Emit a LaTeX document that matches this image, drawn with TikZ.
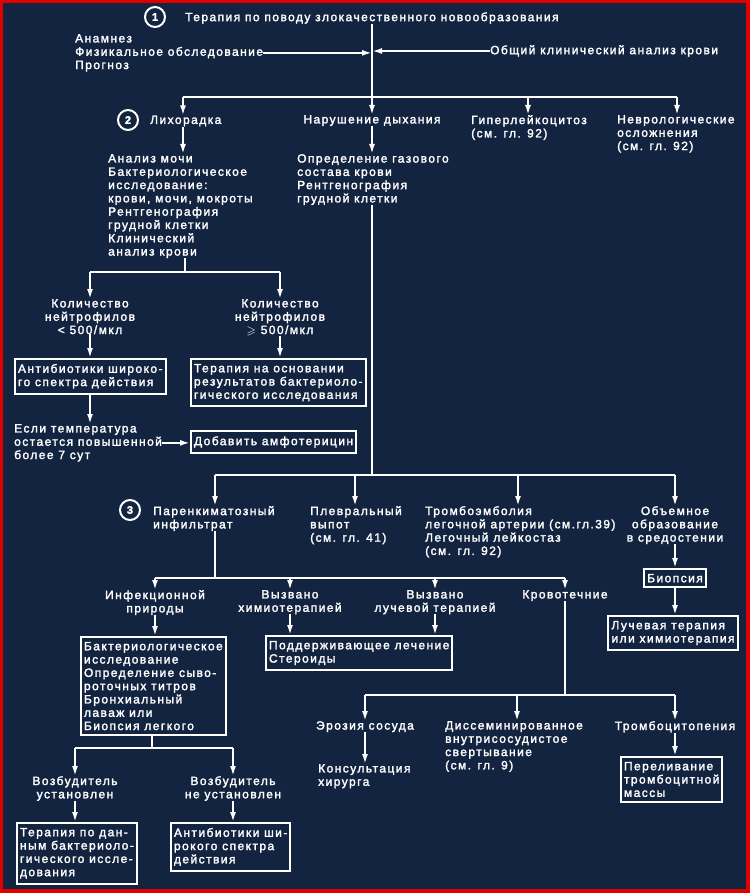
\documentclass[tikz,border=0pt]{standalone}
\usepackage{amssymb}
\usepackage{fontspec}
\setmainfont{Liberation Sans}[LetterSpace=12, FakeBold=2]
\usetikzlibrary{arrows.meta}
\definecolor{navy}{RGB}{19,36,64}
\definecolor{rim}{RGB}{225,0,0}

\begin{document}
\begin{tikzpicture}[x=1pt, y=-1pt,
    every node/.append style={text=white, inner sep=0pt, font=\fontsize{12}{13.3}\selectfont},
    txt/.style={align=left, anchor=north west, yshift=-3pt},
    ctxt/.style={align=center, anchor=north, yshift=-3pt},
    box/.style={draw=white, line width=2pt, align=left, inner xsep=3pt, inner ysep=5pt, anchor=north west},
    num/.style={circle, draw=white, line width=2pt, minimum size=20pt, font=\bfseries\fontsize{11}{13}\selectfont},
    wire/.style={draw=white, line width=1.9pt},
    arr/.style={wire, -{Latex[length=10pt, width=6pt]}}]
    \useasboundingbox (0,0) rectangle (750,893);
    \fill[rim] (0,0) rectangle (750,893);
    \fill[navy] (3,3) rectangle (746,889);
    % first level
    \coordinate (j1) at (372,97);
    \coordinate (b1) at (183,97);
    \coordinate (b3) at (528,97);
    \coordinate (b4) at (677,97);
    \node[num] (n1) at (155,17) {1};
    \node[anchor=west] (ther) at (185,18) {Терапия по поводу злокачественного новообразования};
    \node[txt] (hist) at (75,31) {Анамнез\\Физикальное обследование\\Прогноз};
    \node[anchor=west] (blood) at (490,51) {Общий клинический анализ крови};
    \node[num] (n2) at (128,120) {2};
    \node[anchor=west] (fever) at (150,121) {Лихорадка};
    \node[ctxt] (breath) at (372,112) {Нарушение дыхания};
    \node[txt] (hyper) at (471,112) {Гиперлейкоцитоз\\(см. гл. 92)};
    \node[txt] (neuro) at (617,112) {Неврологические\\осложнения\\(см. гл. 92)};
    \draw[arr] (ther.south -| j1) -- (breath.north);
    \draw[arr] (hist.east) -- (hist.east -| j1);
    \draw[arr] (blood.west) -- (blood.west -| j1);
    \draw[wire] (b1) -- (b4);
    \draw[arr] (b1) -- (b1 |- fever.north);
    \draw[arr] (b3) -- (b3 |- hyper.north);
    \draw[arr] (b4) -- (b4 |- neuro.north);
    % fever
    \node[txt] (ftests) at (108,151) {Анализ мочи\\Бактериологическое\\исследование:\\крови, мочи, мокроты\\Рентгенография\\грудной клетки\\Клинический\\анализ крови};
    \draw[arr] (fever.south -| b1) -- (ftests.north -| b1);
    \coordinate (f0) at (185,272);
    \coordinate (fl) at (90,272);
    \coordinate (fr) at (280,272);
    \draw[wire] (ftests.south -| f0) -- (f0);
    \draw[wire] (fl) -- (fr);
    \node[ctxt] (low) at (90,296) {Количество\\нейтрофилов\\< 500/мкл};
    \node[ctxt] (high) at (280,296) {Количество\\нейтрофилов\\$\geqslant$ 500/мкл};
    \draw[arr] (fl) -- (low);
    \draw[arr] (fr) -- (high);
    \node[box] (abx1) at (14,358) {Антибиотики широко-\\го спектра действия};
    \node[box] (bact1) at (190,358) {Терапия на основании\\результатов бактериоло-\\гического исследования};
    \draw[arr] (low.south) -- (low.south |- abx1.north);
    \draw[arr] (high.south) -- (high.south |- bact1.north);
    \node[txt] (fevr) at (14,421) {Если температура\\остается повышенной\\более 7 сут};
    \node[box, anchor=west] (ampho) at (190,442) {Добавить амфотерицин};
    \draw[arr] (abx1.south -| low) -- (fevr.north -| low);
    \draw[arr] (fevr.east) -- (fevr.east -| ampho.west);
    % breathing
    \node[txt] (btests) at (297,151) {Определение газового\\состава крови\\Рентгенография\\грудной клетки};
    \draw[arr] (breath.south) -- (breath.south |- btests.north);
    \coordinate (j2) at (372,475);
    \coordinate (c1) at (215,475);
    \coordinate (c2) at (355,475);
    \coordinate (c3) at (518,475);
    \coordinate (c4) at (675,475);
    \draw[wire] (btests.south -| j2) -- (j2);
    \draw[wire] (c1) -- (c4);
    \node[num] (n3) at (130,510) {3};
    \node[txt] (paren) at (153,503) {Паренкиматозный\\инфильтрат};
    \node[txt] (pleur) at (310,503) {Плевральный\\выпот\\(см. гл. 41)};
    \node[txt] (embol) at (425,503) {Тромбоэмболия\\легочной артерии (см.гл.39)\\Легочный лейкостаз\\(см. гл. 92)};
    \node[ctxt] (mass) at (675,503) {Объемное\\образование\\в средостении};
    \draw[arr] (c1) -- (c1 |- paren.north);
    \draw[arr] (c2) -- (c2 |- pleur.north);
    \draw[arr] (c3) -- (c3 |- embol.north);
    \draw[arr] (c4) -- (mass);
    % infiltrate
    \coordinate (p0) at (215,578);
    \coordinate (d1) at (155,578);
    \coordinate (d2) at (290,578);
    \coordinate (d3) at (435,578);
    \coordinate (d4) at (565,578);
    \draw[wire] (paren.south -| p0) -- (p0);
    \draw[wire] (d1) -- (d4);
    \node[ctxt] (infec) at (155,587) {Инфекционной\\природы};
    \node[ctxt] (chemo) at (290,587) {Вызвано\\химиотерапией};
    \node[ctxt] (radio) at (435,587) {Вызвано\\лучевой терапией};
    \node[ctxt] (bleed) at (565,587) {Кровотечние};
    \draw[arr] (d1) -- (infec);
    \draw[arr] (d2) -- (chemo);
    \draw[arr] (d3) -- (radio);
    \draw[arr] (d4) -- (bleed);
    \node[box] (ibox) at (80,636) {Бактериологическое\\исследование\\Определение сыво-\\роточных титров\\Бронхиальный\\лаваж или\\Биопсия легкого};
    \node[box] (steroid) at (265,635) {Поддерживающее лечение\\Стероиды};
    \draw[arr] (infec.south) -- (infec.south |- ibox.north);
    \draw[arr] (chemo.south) -- (chemo.south |- steroid.north);
    \draw[arr] (radio.south) -- (radio.south |- steroid.north);
    % bleeding
    \coordinate (k0) at (565,695);
    \coordinate (k1) at (365,695);
    \coordinate (k2) at (517,695);
    \coordinate (k3) at (675,695);
    \draw[wire] (bleed.south) -- (k0);
    \draw[wire] (k1) -- (k3);
    \node[ctxt] (eros) at (365,718) {Эрозия сосуда};
    \node[txt] (surg) at (318,761) {Консультация\\хирурга};
    \node[txt] (dic) at (445,718) {Диссеминированное\\внутрисосудистое\\свертывание\\(см. гл. 9)};
    \node[ctxt] (thromb) at (675,718) {Тромбоцитопения};
    \node[box] (plt) at (620,756) {Переливание\\тромбоцитной\\массы};
    \draw[arr] (k1) -- (eros);
    \draw[arr] (eros.south) -- (eros.south |- surg.north);
    \draw[arr] (k2) -- (k2 |- dic.north);
    \draw[arr] (k3) -- (thromb);
    \draw[arr] (thromb.south) -- (thromb.south |- plt.north);
    % mediastinum
    \node[box, anchor=north] (biop) at (675,568) {Биопсия};
    \node[box, anchor=north] (rad) at (673,615) {Лучевая терапия\\или химиотерапия};
    \draw[arr] (mass) -- (biop);
    \draw[arr] (biop) -- (biop |- rad.north);
    % pathogen
    \coordinate (e0) at (152,748);
    \coordinate (el) at (75,748);
    \coordinate (er) at (233,748);
    \draw[wire] (ibox.south -| e0) -- (e0);
    \draw[wire] (el) -- (er);
    \node[ctxt] (found) at (75,773) {Возбудитель\\установлен};
    \node[ctxt] (nfound) at (233,773) {Возбудитель\\не установлен};
    \draw[arr] (el) -- (found);
    \draw[arr] (er) -- (nfound);
    \node[box] (tbact) at (16,822) {Терапия по дан-\\ным бактериоло-\\гического иссле-\\дования};
    \node[box] (abx2) at (170,822) {Антибиотики ши-\\рокого спектра\\действия};
    \draw[arr] (found.south) -- (found.south |- tbact.north);
    \draw[arr] (nfound.south) -- (nfound.south |- abx2.north);
\end{tikzpicture}
\end{document}
